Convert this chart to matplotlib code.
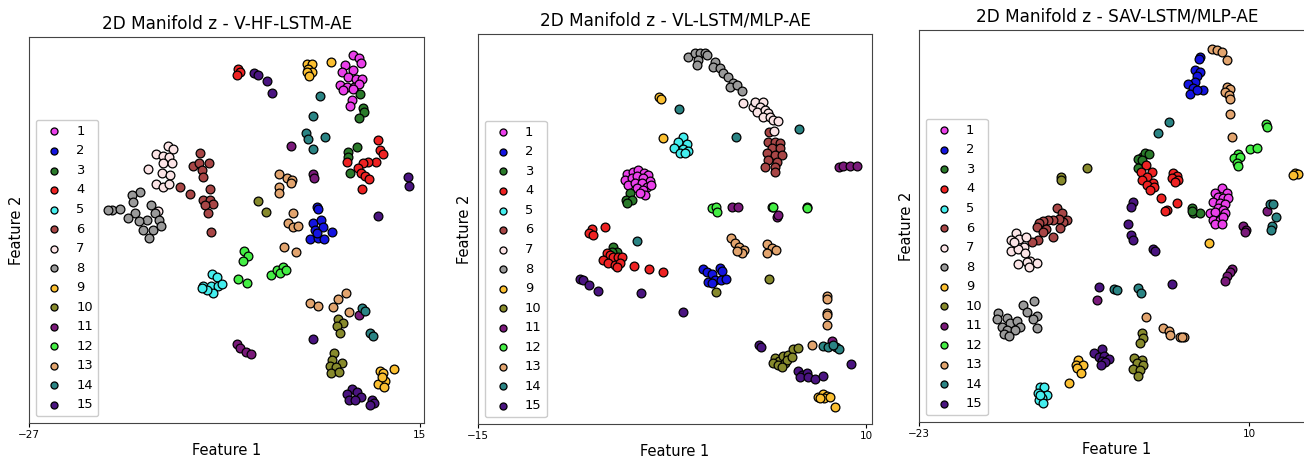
import numpy as np
import matplotlib as mpl
import matplotlib.pyplot as plt

mpl.rcParams['font.family'] = 'DejaVu Sans'

fig_sz_x = 13.04
fig_sz_y = 4.59
fig_dpi = 100

class_labels = [str(i) for i in range(1, 16)]
class_colors = ['#ea3fea', '#1414e0', '#2a7a2a', '#ee2222', '#44eeee', '#a84646',
                '#fbe4e6', '#9a9a9a', '#fbbf30', '#878a2c', '#7a1a7a', '#44ee44',
                '#e2a46e', '#2a8484', '#4a1480']

titles = ['2D Manifold z - V-HF-LSTM-AE', '2D Manifold z - VL-LSTM/MLP-AE',
          '2D Manifold z - SAV-LSTM/MLP-AE']
x_ticks = [[-27, 15], [-15, 10], [-23, 10]]

# ---- V-HF-LSTM-AE : (feature 1, feature 2) per class
vhf_c01 = [(7.87, 36.8), (8.51, 36.5), (8.69, 36.0), (6.97, 35.8), (7.87, 35.3), (6.62, 35.1), (7.33, 34.6),
           (8.16, 34.4), (8.80, 34.4), (6.43, 33.8), (7.16, 33.6), (7.94, 33.6), (8.45, 33.9), (6.72, 33.3),
           (7.87, 33.4), (7.69, 32.3), (7.51, 31.7)]
vhf_c02 = [(3.99, 21.6), (4.10, 21.4), (3.50, 20.0), (4.36, 20.3), (3.74, 19.3), (4.57, 19.6), (5.54, 19.1),
           (3.21, 18.4), (4.10, 18.5), (4.71, 18.4), (3.93, 19.0)]
vhf_c03 = [(8.59, 32.9), (8.94, 31.5), (9.02, 31.1), (8.51, 30.5), (7.33, 27.1), (8.23, 27.6), (7.33, 26.6),
           (7.51, 25.0)]
vhf_c04 = [(-4.54, 35.4), (-4.33, 35.1), (-4.65, 34.8), (10.49, 28.3), (10.74, 27.3), (11.09, 26.9),
           (10.31, 26.1), (9.48, 26.1), (8.88, 26.0), (8.40, 25.5), (8.66, 25.0), (9.12, 24.7), (9.59, 24.4),
           (7.16, 26.1), (8.83, 23.4)]
vhf_c05 = [(-7.37, 14.9), (-6.77, 14.6), (-8.27, 13.7), (-7.48, 13.7), (-6.66, 13.7), (-6.29, 13.9),
           (-7.20, 13.0), (-7.84, 13.3), (-8.45, 13.5)]
vhf_c06 = [(-8.63, 27.0), (-9.35, 25.7), (-8.70, 26.0), (-7.66, 26.0), (-8.45, 25.3), (-8.34, 24.6),
           (-10.78, 23.6), (-9.71, 22.9), (-7.55, 23.4), (-8.27, 22.3), (-7.55, 22.3), (-7.20, 21.9),
           (-8.09, 21.8), (-7.74, 21.0), (-7.48, 19.1)]
vhf_c07 = [(-12.11, 27.7), (-11.50, 27.4), (-13.36, 26.9), (-12.58, 26.7), (-11.93, 26.6), (-12.58, 26.0),
           (-11.68, 26.0), (-14.26, 25.4), (-12.69, 25.0), (-11.86, 24.8), (-13.36, 23.9), (-12.58, 23.6),
           (-11.93, 23.9), (-13.18, 21.2)]
vhf_c08 = [(-15.09, 23.1), (-15.98, 22.8), (-15.87, 22.1), (-18.13, 21.3), (-17.24, 21.4), (-13.90, 21.8),
           (-15.62, 21.0), (-16.34, 20.5), (-14.36, 20.3), (-13.47, 21.0), (-13.01, 20.3), (-15.16, 20.2),
           (-14.73, 19.3), (-13.65, 19.3), (-14.09, 18.5), (-12.86, 19.7), (-18.53, 21.3)]
vhf_c09 = [(2.85, 35.9), (3.39, 35.9), (3.02, 35.4), (3.39, 35.1), (2.92, 35.1), (3.13, 34.7), (5.43, 36.1),
           (10.74, 5.2), (11.03, 5.0), (12.24, 5.4), (11.28, 4.2), (10.56, 3.9), (11.17, 3.6), (10.92, 4.6)]
vhf_c10 = [(-2.36, 22.2), (-1.53, 21.1), (6.25, 10.4), (6.72, 10.0), (6.08, 9.7), (6.43, 9.0), (5.79, 7.0),
           (5.54, 6.3), (6.62, 6.0), (5.36, 5.7), (6.00, 5.6), (5.43, 5.0), (6.36, 5.1)]
vhf_c11 = [(1.13, 27.7), (3.56, 24.9), (3.64, 24.5), (8.51, 10.8), (-4.68, 7.9), (-4.33, 7.5), (-3.68, 7.1),
           (-3.17, 6.9)]
vhf_c12 = [(-3.86, 17.2), (-3.43, 16.7), (-4.04, 16.2), (-4.51, 14.4), (-3.54, 14.0), (-1.02, 14.8),
           (-0.38, 15.3), (0.33, 15.6), (-0.02, 15.0), (0.62, 15.3)]
vhf_c13 = [(-0.10, 24.9), (0.70, 24.5), (1.24, 24.3), (1.13, 24.0), (-0.10, 23.6), (-0.10, 23.0), (1.41, 21.0),
           (0.87, 20.0), (1.41, 19.6), (1.95, 19.7), (0.41, 17.6), (1.70, 17.1), (3.21, 12.0), (4.10, 11.7),
           (5.71, 11.6), (6.25, 12.4), (7.08, 13.0), (7.44, 11.1)]
vhf_c14 = [(4.28, 32.7), (3.50, 30.7), (2.78, 29.0), (3.02, 28.4), (4.79, 28.6), (3.50, 27.4), (8.77, 11.5),
           (9.12, 11.2), (9.66, 9.0), (9.95, 8.7)]
vhf_c15 = [(-2.82, 35.0), (-2.36, 34.8), (-1.39, 34.2), (-0.91, 33.0), (13.78, 24.6), (13.91, 23.7),
           (10.49, 20.7), (3.50, 8.4), (7.69, 3.4), (8.23, 3.1), (7.16, 2.9), (8.66, 2.6), (7.44, 2.3),
           (8.05, 2.3), (9.85, 2.3), (10.09, 2.0), (9.66, 1.8)]

# ---- VL-LSTM/MLP-AE
vl_c01 = [(-5.42, 25.0), (-5.03, 25.2), (-4.67, 25.4), (-4.31, 25.1), (-4.03, 24.9), (-5.53, 24.4),
          (-5.10, 24.6), (-4.78, 24.8), (-4.35, 24.6), (-3.92, 24.3), (-5.32, 23.9), (-4.89, 24.1),
          (-4.45, 24.1), (-4.13, 23.7), (-3.87, 23.9), (-4.74, 23.6), (-4.35, 23.4), (-4.24, 22.9), (-4.56, 23.1)]
vl_c02 = [(-0.48, 15.5), (-0.27, 15.2), (0.59, 15.6), (0.70, 15.3), (0.06, 15.0), (-0.16, 14.2), (0.27, 14.4),
          (0.64, 14.4), (0.98, 14.5), (0.06, 14.1)]
vl_c03 = [(-5.21, 23.1), (-5.46, 22.4), (-5.10, 22.4), (-5.38, 22.1), (-6.28, 17.7), (-6.06, 17.2), (-6.39, 17.2)]
vl_c04 = [(-7.67, 19.5), (-7.83, 19.1), (-7.57, 18.9), (-6.82, 19.7), (-6.71, 17.1), (-6.50, 16.9),
          (-6.93, 16.4), (-6.28, 16.7), (-5.96, 16.7), (-5.74, 16.7), (-6.61, 16.1), (-6.17, 15.9),
          (-5.85, 16.1), (-6.06, 15.7), (-4.93, 15.8), (-3.96, 15.5), (-3.10, 15.2)]
vl_c05 = [(-1.77, 28.7), (-2.10, 28.2), (-1.55, 28.0), (-2.35, 27.6), (-1.81, 27.5), (-1.45, 27.3),
          (-1.99, 27.1), (-1.66, 27.1)]
vl_c06 = [(3.77, 29.2), (3.70, 28.2), (4.14, 28.2), (4.46, 28.1), (3.92, 27.6), (4.46, 27.6), (3.60, 27.1),
          (4.14, 26.9), (4.57, 26.9), (3.70, 26.4), (4.24, 26.2), (3.49, 25.7), (4.14, 25.7), (4.14, 25.2)]
vl_c07 = [(2.05, 32.1), (2.70, 31.7), (2.85, 32.2), (3.34, 32.2), (3.17, 31.7), (2.96, 31.2), (3.49, 31.4),
          (3.70, 31.1), (3.34, 30.7), (3.81, 30.7), (4.03, 30.4), (4.35, 30.3), (4.07, 29.3)]
vl_c08 = [(-1.45, 36.7), (-1.02, 37.1), (-0.70, 37.1), (-0.37, 37.1), (-0.27, 36.9), (-0.81, 36.4),
          (-0.91, 35.9), (0.27, 36.2), (0.16, 35.7), (0.59, 35.6), (0.77, 35.1), (1.13, 34.7), (1.45, 34.1),
          (1.24, 33.7), (1.67, 33.9), (1.99, 33.3)]
vl_c09 = [(-3.32, 32.7), (-3.23, 32.5), (-3.10, 28.6), (6.93, 2.7), (7.21, 3.0), (7.47, 2.8), (7.29, 2.6),
          (7.03, 2.6), (7.68, 2.7), (8.00, 1.7)]
vl_c10 = [(0.33, 13.2), (3.77, 14.5), (4.14, 6.6), (4.41, 6.3), (4.67, 6.8), (4.99, 6.9), (5.31, 7.5),
          (5.64, 7.6), (4.03, 6.1), (4.35, 5.9), (4.78, 6.1), (4.89, 6.4), (4.57, 5.7), (5.21, 6.7)]
vl_c11 = [(8.28, 25.7), (8.54, 25.8), (8.97, 25.8), (9.44, 25.8), (1.35, 21.7), (1.77, 21.7), (4.24, 20.7),
          (4.35, 20.9), (7.79, 8.3)]
vl_c12 = [(0.06, 21.6), (0.33, 21.7), (0.37, 21.2), (3.92, 21.7), (4.03, 21.7), (6.18, 21.7), (6.22, 21.6)]
vl_c13 = [(1.28, 18.6), (1.56, 18.1), (1.84, 17.7), (2.14, 17.4), (1.99, 17.1), (1.67, 17.3), (3.64, 18.0),
          (3.92, 17.6), (4.20, 17.4), (3.60, 17.1), (7.51, 12.8), (7.51, 12.5), (7.51, 11.1), (7.51, 10.9),
          (7.47, 9.9), (6.50, 7.9)]
vl_c14 = [(-2.03, 31.5), (1.62, 28.7), (5.70, 29.5), (-4.78, 18.3), (7.25, 7.8), (7.57, 7.7), (8.07, 7.7),
          (8.28, 7.5), (7.89, 7.9)]
vl_c15 = [(-8.43, 14.5), (-8.22, 14.4), (-7.83, 13.9), (-7.25, 13.3), (-4.50, 13.1), (-1.77, 11.2),
          (3.12, 7.9), (3.21, 7.7), (5.64, 5.3), (5.86, 4.9), (6.18, 5.1), (5.75, 4.7), (6.28, 4.7),
          (6.71, 4.5), (7.25, 4.8), (9.01, 6.0)]

# ---- SAV-LSTM/MLP-AE
sav_c01 = [(7.27, 23.4), (6.60, 22.9), (7.77, 22.9), (6.93, 22.5), (7.43, 22.4), (7.93, 22.4), (6.43, 22.0),
           (7.10, 21.9), (7.60, 21.8), (6.10, 20.9), (6.93, 21.4), (7.43, 21.2), (6.60, 21.0), (7.60, 20.9),
           (6.43, 20.2), (7.10, 20.2), (7.43, 20.5), (6.60, 19.8), (7.27, 19.8)]
sav_c02 = [(5.10, 36.5), (5.03, 36.3), (4.60, 35.2), (5.10, 35.0), (4.83, 34.6), (4.60, 34.0), (3.93, 33.8),
           (4.43, 33.4), (5.43, 33.2), (4.10, 32.8), (4.77, 33.2)]
sav_c03 = [(-0.73, 26.5), (-0.40, 26.9), (0.03, 26.8), (-1.07, 26.3), (-0.70, 26.2), (-1.07, 25.4),
           (4.27, 21.4), (4.43, 20.9), (5.10, 20.9), (4.27, 21.1)]
sav_c04 = [(-0.30, 25.7), (-0.83, 25.0), (0.27, 25.0), (-0.23, 24.5), (-0.73, 24.2), (0.43, 23.9),
           (-0.17, 23.7), (0.50, 23.5), (0.10, 23.2), (2.37, 24.9), (2.77, 24.6), (2.27, 24.4), (2.93, 24.2),
           (2.60, 24.0), (1.17, 22.4), (1.77, 21.2), (1.60, 21.1), (2.77, 21.9)]
sav_c05 = [(-10.90, 3.5), (-10.50, 3.5), (-11.07, 2.9), (-10.23, 2.7), (-10.73, 2.4), (-10.97, 2.2),
           (-10.57, 1.9), (-10.90, 2.7)]
sav_c06 = [(-9.23, 21.4), (-8.73, 20.9), (-8.23, 20.2), (-8.57, 20.0), (-8.97, 20.3), (-9.57, 20.2),
           (-10.07, 20.2), (-10.57, 20.1), (-10.97, 19.9), (-11.23, 19.5), (-10.30, 19.3), (-10.63, 19.0),
           (-9.57, 18.5), (-8.90, 19.4), (-11.07, 18.2), (-11.73, 18.0)]
sav_c07 = [(-13.30, 18.9), (-13.83, 18.2), (-12.97, 18.3), (-12.30, 18.5), (-12.50, 17.5), (-13.83, 17.1),
           (-13.07, 17.3), (-12.40, 16.9), (-11.90, 16.1), (-11.23, 15.9), (-12.17, 16.0), (-13.07, 15.8),
           (-12.00, 15.5), (-13.50, 18.0)]
sav_c08 = [(-11.50, 12.1), (-12.57, 11.7), (-12.23, 11.0), (-11.23, 10.6), (-11.57, 10.3), (-11.23, 9.4),
           (-15.07, 10.9), (-15.23, 10.3), (-14.23, 10.4), (-13.90, 9.9), (-14.73, 9.5), (-14.17, 9.2),
           (-13.23, 10.1), (-12.90, 9.5), (-13.40, 9.2), (-14.50, 8.8), (-13.97, 8.6)]
sav_c09 = [(14.60, 24.9), (14.93, 24.8), (14.43, 24.7), (6.03, 17.9), (-7.07, 6.2), (-7.30, 5.7), (-6.63, 5.7),
           (-7.23, 5.4), (-6.83, 4.9), (-7.97, 3.9)]
sav_c10 = [(-8.83, 24.5), (-8.83, 24.2), (-6.17, 25.4), (-0.73, 8.9), (-0.57, 8.4), (-0.90, 7.9), (-1.50, 6.4),
           (-0.73, 6.2), (-1.23, 5.9), (-0.63, 5.7), (-1.63, 5.3), (-0.90, 5.2), (-1.07, 4.6)]
sav_c11 = [(11.77, 21.1), (9.43, 19.6), (9.70, 19.2), (9.60, 19.0), (8.27, 15.3), (8.10, 15.0), (7.83, 14.6),
           (7.60, 14.1), (-5.17, 12.2)]
sav_c12 = [(11.70, 29.8), (11.77, 29.5), (10.10, 27.3), (10.77, 27.4), (8.93, 26.8), (8.50, 26.4),
           (9.10, 26.5), (8.83, 25.9), (8.93, 25.6)]
sav_c13 = [(6.27, 37.3), (6.77, 37.2), (7.27, 37.0), (7.77, 36.2), (7.77, 33.5), (8.10, 33.3), (7.60, 33.0),
           (8.03, 32.7), (8.10, 32.3), (8.10, 30.8), (8.33, 28.5), (-0.30, 10.5), (1.43, 9.4), (2.03, 9.1),
           (2.10, 8.7), (3.10, 8.5), (3.50, 8.5), (3.27, 8.5)]
sav_c14 = [(2.03, 30.0), (0.87, 28.9), (12.10, 21.8), (12.43, 21.8), (12.70, 20.5), (12.27, 19.6),
           (12.20, 19.2), (-3.50, 13.3), (-3.23, 13.2), (-1.07, 13.4), (-0.83, 12.9)]
sav_c15 = [(-1.63, 22.0), (-1.83, 21.5), (-2.07, 19.8), (-1.83, 18.7), (-1.63, 18.2), (0.43, 17.3),
           (0.60, 17.1), (2.27, 13.8), (-5.03, 13.5), (-5.50, 6.9), (-4.73, 7.3), (-4.97, 6.5), (-4.50, 6.6),
           (-3.97, 6.3), (-4.73, 6.1), (-4.40, 6.0), (-4.83, 5.7)]

vhf = [vhf_c01, vhf_c02, vhf_c03, vhf_c04, vhf_c05, vhf_c06, vhf_c07, vhf_c08,
       vhf_c09, vhf_c10, vhf_c11, vhf_c12, vhf_c13, vhf_c14, vhf_c15]
vl = [vl_c01, vl_c02, vl_c03, vl_c04, vl_c05, vl_c06, vl_c07, vl_c08,
      vl_c09, vl_c10, vl_c11, vl_c12, vl_c13, vl_c14, vl_c15]
sav = [sav_c01, sav_c02, sav_c03, sav_c04, sav_c05, sav_c06, sav_c07, sav_c08,
       sav_c09, sav_c10, sav_c11, sav_c12, sav_c13, sav_c14, sav_c15]

# layout (figure fractions) and limits
ax_pos = [[0.0225, 0.0784, 0.3027, 0.841],
          [0.3666, 0.0763, 0.3021, 0.850],
          [0.7048, 0.0806, 0.3037, 0.854]]
x_lims = [(-27, 15.49), (-15, 10.39), (-23, 16.6)]
y_lims = [(0, 38.6), (0, 39.0), (0, 39.2)]

fig = plt.figure(figsize=(fig_sz_x, fig_sz_y), dpi=fig_dpi)

for k, data in enumerate([vhf, vl, sav]):
    ax = fig.add_axes(ax_pos[k])
    for c, pts in enumerate(data):
        pts = np.array(pts)
        ax.scatter(pts[:, 0], pts[:, 1], s=40, c=class_colors[c], edgecolors='black',
                   linewidths=0.9, label=class_labels[c], zorder=2)
    ax.set_xlim(x_lims[k])
    ax.set_ylim(y_lims[k])
    ax.set_xticks(x_ticks[k])
    ax.set_yticks([])
    ax.tick_params(axis='x', labelsize=7.5, length=3, pad=2)
    for sp in ax.spines.values():
        sp.set_color('#444444')
    ax.set_title(titles[k], fontsize=12.2, pad=6)
    ax.set_xlabel('Feature 1', fontsize=10.5, labelpad=2)
    ax.set_ylabel('Feature 2', fontsize=10.5)
    ax.legend(loc='lower left', fontsize=9.4, markerscale=0.8, handletextpad=0.7,
              labelspacing=0.5, borderpad=0.4, framealpha=1)

fig.savefig('out.png', dpi=fig_dpi)
